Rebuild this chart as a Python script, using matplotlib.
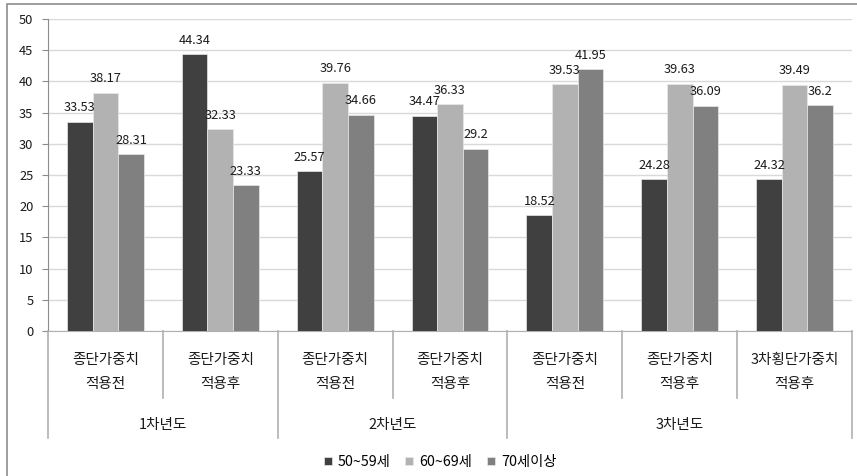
import matplotlib.pyplot as plt
from matplotlib.lines import Line2D
from matplotlib.patches import Rectangle
import numpy as np

plt.rcParams['font.family'] = ['Noto Sans CJK KR', 'DejaVu Sans']

# data
sub_labels = ["종단가중치\n적용전", "종단가중치\n적용후", "종단가중치\n적용전", "종단가중치\n적용후",
              "종단가중치\n적용전", "종단가중치\n적용후", "3차횡단가중치\n적용후"]
years = ["1차년도", "2차년도", "3차년도"]
year_groups = [2, 2, 3]  # number of categories under each year
series_names = ["50~59세", "60~69세", "70세이상"]
age_50s = [33.53, 44.34, 25.57, 34.47, 18.52, 24.28, 24.32]
age_60s = [38.17, 32.33, 39.76, 36.33, 39.53, 39.63, 39.49]
age_70s = [28.31, 23.33, 34.66, 29.2, 41.95, 36.09, 36.2]
colors = ["#404040", "#b2b2b2", "#808080"]

W, H = 857, 476
fig = plt.figure(figsize=(W / 100, H / 100), dpi=100)

def fx(px):
    return px / W

def fy(py):
    return 1 - py / H

# outer frame (only left/top visible)
fig.patches.append(Rectangle((fx(7), fy(490)), fx(900), fy(4) - fy(490), transform=fig.transFigure,
                             fill=False, edgecolor="#8c8c8c", linewidth=1.2))

ax = fig.add_axes([fx(48), fy(331), fx(852) - fx(48), fy(19) - fy(331)])
n = len(sub_labels)
x = np.arange(n)
bw = 0.223
for i, vals in enumerate([age_50s, age_60s, age_70s]):
    pos = x + (i - 1) * bw
    ax.bar(pos, vals, bw, color=colors[i], edgecolor="#e8e8e8", linewidth=0.5,
           label=series_names[i], zorder=3)
    for p, v in zip(pos, vals):
        ax.text(p, v + 1.2, f"{v:g}", ha="center", va="bottom", fontsize=9.2,
                color="#1a1a1a", zorder=4)

ax.set_xlim(-0.5, n - 0.5)
ax.set_ylim(0, 50)
ax.set_yticks(np.arange(0, 51, 5))
ax.tick_params(axis="y", labelsize=9.3, length=4, color="#8c8c8c", pad=6.5, labelcolor="#1a1a1a")
ax.set_xticks([])
ax.grid(axis="y", color="#d9d9d9", linewidth=1, zorder=0)
for s in ["top", "right"]:
    ax.spines[s].set_visible(False)
ax.spines["left"].set_color("#8c8c8c")
ax.spines["bottom"].set_color("#b0b0b0")

# category labels and separators below the axis
trans = ax.get_xaxis_transform()
for i, lab in enumerate(sub_labels):
    ax.text(i, (331 - 372) / 312, lab, transform=trans, ha="center", va="center",
            fontsize=10.5, linespacing=1.9, color="#1a1a1a")

edges = [0]
for g in year_groups:
    edges.append(edges[-1] + g)
for b in range(n + 1):
    bottom = (331 - 438) / 312 if b in edges else (331 - 398) / 312
    ax.add_line(Line2D([b - 0.5, b - 0.5], [0, bottom], transform=trans, color="#b0b0b0",
                       linewidth=1.2, clip_on=False))
for k, yr in enumerate(years):
    mid = (edges[k] + edges[k + 1]) / 2 - 0.5
    ax.text(mid, (331 - 425) / 312, yr, transform=trans, ha="center", va="center",
            fontsize=10.5, color="#1a1a1a")

leg = fig.legend(loc="center", bbox_to_anchor=(fx(440), fy(462)), ncol=3, frameon=False,
                 fontsize=10.3, handlelength=0.55, handleheight=0.55, handletextpad=0.45,
                 columnspacing=1.0)

fig.savefig("out.png", dpi=100)
